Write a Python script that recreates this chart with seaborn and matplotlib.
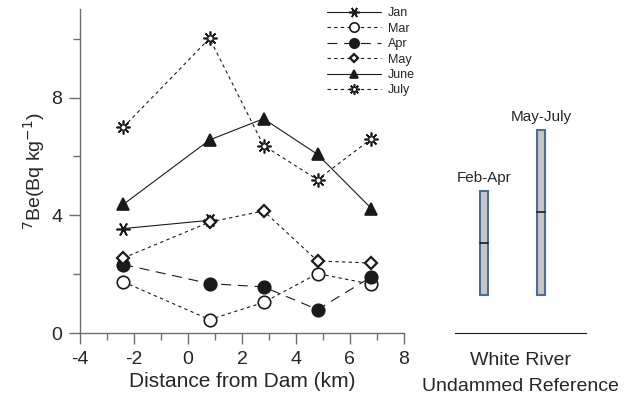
import matplotlib
matplotlib.use("Agg")
import matplotlib.pyplot as plt
import seaborn as sns
import numpy as np
from matplotlib.lines import Line2D
from matplotlib.ticker import MultipleLocator

sns.set_theme(style="white")
plt.rcParams['font.family'] = ['Liberation Sans', 'DejaVu Sans']
plt.rcParams['axes.unicode_minus'] = False

# ---- data ----
distance = [-2.4, 0.8, 2.8, 4.8, 6.8]
jan_x = [-2.4, 0.8]
jan = [3.55, 3.83]
mar = [1.74, 0.46, 1.04, 2.02, 1.66]
apr = [2.33, 1.68, 1.57, 0.80, 1.91]
may = [2.55, 3.77, 4.15, 2.45, 2.38]
june = [4.37, 6.56, 7.28, 6.07, 4.23]
july = [6.99, 10.01, 6.37, 5.21, 6.60]

ref_labels = ["Feb-Apr", "May-July"]
ref_low = [1.3, 1.3]
ref_high = [4.82, 6.9]
ref_median = [3.06, 4.11]

fig = plt.figure(figsize=(6.41, 3.98), dpi=100)
ax = fig.add_axes([0.125, 0.163, 0.505, 0.814])

spine_col = "#6e6e6e"
ast6 = (6, 2, 90)
star8 = (8, 2, 0)

series = [
    ("Jan", jan_x, jan, "-", ast6, "k", 10),
    ("Mar", distance, mar, (0, (3, 3)), "o", "white", 9),
    ("Apr", distance, apr, (0, (9, 6)), "o", "k", 9),
    ("May", distance, may, (0, (3, 3)), "D", "white", 6),
    ("June", distance, june, "-", "^", "k", 8),
    ("July", distance, july, (0, (3, 3)), star8, "k", 10),
]

handles = []
for name, xs, ys, ls, mk, fc, ms in series:
    mew = 1.6 if mk == "D" else 1.2
    sns.lineplot(x=xs, y=ys, ax=ax, color="k", linewidth=0.8, linestyle=ls,
                 marker=mk, markersize=ms, markerfacecolor=fc,
                 markeredgecolor="k", markeredgewidth=mew,
                 legend=False, zorder=3)
    h = Line2D([], [], color="k", linewidth=0.8, linestyle=ls, marker=mk,
               markersize=ms, markerfacecolor=fc, markeredgecolor="k",
               markeredgewidth=mew)
    if name == "July":
        h2 = Line2D([], [], linestyle="none", marker="o", markersize=4,
                    markerfacecolor="white", markeredgecolor="k", markeredgewidth=0.8)
        h = (h, h2)
    handles.append(h)

# inner hollow circle of July markers
ax.scatter(distance, july, s=14, facecolor="white", edgecolor="k", linewidth=0.8, zorder=4)

ax.set_xlim(-4, 8)
ax.set_ylim(0, 11)
ax.xaxis.set_major_locator(MultipleLocator(2))
ax.xaxis.set_minor_locator(MultipleLocator(1))
ax.yaxis.set_major_locator(MultipleLocator(4))
ax.yaxis.set_minor_locator(MultipleLocator(2))
for s in ["top", "right"]:
    ax.spines[s].set_visible(False)
for s in ["left", "bottom"]:
    ax.spines[s].set_color(spine_col)
    ax.spines[s].set_linewidth(1.0)
ax.tick_params(which="major", direction="out", length=8, width=1, color=spine_col,
               labelsize=14, left=True, bottom=True, pad=5)
ax.tick_params(which="minor", direction="out", length=5, width=1, color=spine_col,
               left=True, bottom=True)
ax.set_xlabel("Distance from Dam (km)", fontsize=15, labelpad=3)
ax.set_ylabel(r"$^{7}$Be(Bq kg$^{-1}$)", fontsize=14, labelpad=3)
ax.grid(False)

leg = ax.legend(handles, ["Jan", "Mar", "Apr", "May", "June", "July"],
                loc="upper left", bbox_to_anchor=(327 / 641, 1 - 7 / 398),
                bbox_transform=fig.transFigure, frameon=False, fontsize=9,
                handlelength=4.3, handletextpad=0.6, labelspacing=0.28,
                borderpad=0, borderaxespad=0, markerscale=0.75)

# ---- right panel: White River reference ranges ----
ax2 = fig.add_axes([455 / 641, 0.163, 131 / 641, 0.814])
ax2.set_xlim(0, 1)
ax2.set_ylim(0, 11)
ref_x = [0.221, 0.656]
for i, lab in enumerate(ref_labels):
    ax2.bar(ref_x[i], ref_high[i] - ref_low[i], bottom=ref_low[i], width=0.065,
            color="#c6c6c6", edgecolor="#4d6d99", linewidth=1.5)
    ax2.plot([ref_x[i] - 0.03, ref_x[i] + 0.03], [ref_median[i]] * 2, color="k", lw=1.2)
    ax2.text(ref_x[i], ref_high[i] + 0.2, lab, ha="center", va="bottom", fontsize=11)
for s in ["top", "right", "left"]:
    ax2.spines[s].set_visible(False)
ax2.spines["bottom"].set_color("k")
ax2.spines["bottom"].set_linewidth(0.8)
ax2.set_xticks([])
ax2.set_yticks([])
ax2.set_facecolor("none")
ax2.text(0.5, -0.084, "White River", transform=ax2.transAxes, ha="center",
         va="center", fontsize=14)
ax2.text(0.5, -0.165, "Undammed Reference", transform=ax2.transAxes, ha="center",
         va="center", fontsize=14)

fig.savefig("out.png", dpi=100)
